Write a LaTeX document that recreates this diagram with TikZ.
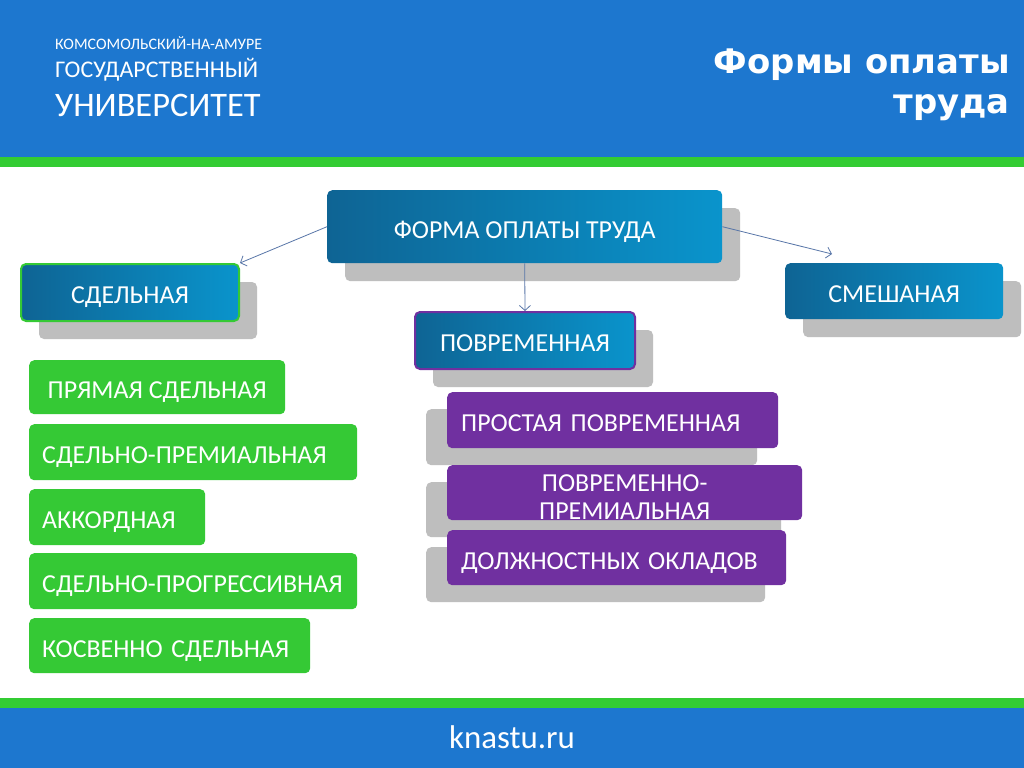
\documentclass[tikz,border=0pt]{standalone}
\usepackage{fontspec}
\setmainfont{Carlito}
\newfontfamily\headfont{Carlito}
\newfontfamily\titlefont{DejaVu Sans}
\usetikzlibrary{arrows.meta,positioning,shadows}
\definecolor{headblue}{RGB}{29,119,207}
\definecolor{stripegreen}{RGB}{51,204,51}
\definecolor{boxdark}{RGB}{14,100,148}
\definecolor{boxlight}{RGB}{10,148,204}
\definecolor{boxgreen}{RGB}{53,201,53}
\definecolor{boxpurple}{RGB}{112,48,160}
\definecolor{shadowgray}{RGB}{190,190,190}
\definecolor{arrowblue}{RGB}{88,118,168}
\tikzset{
    diagramblue/.style={anchor=north west, rounded corners=5bp, left color=boxdark, right color=boxlight, text=white, font=\fontsize{26}{30}\selectfont, text height=23bp, text depth=0pt, general shadow={fill=shadowgray, shadow xshift=18bp, shadow yshift=-18bp}},
    diagramgreen/.style={anchor=north west, rounded corners=5bp, fill=boxgreen, text=white, font=\fontsize{26}{30}\selectfont, text height=23bp, text depth=0pt, align=left, inner xsep=13bp},
    diagrampurple/.style={anchor=north west, rounded corners=5bp, fill=boxpurple, text=white, font=\fontsize{26}{30}\selectfont, text height=23bp, text depth=0pt, align=left, inner xsep=14bp, general shadow={fill=shadowgray, shadow xshift=-21bp, shadow yshift=-17bp}},
    diagramarrow/.style={-{Straight Barb[length=5bp, width=11bp]}, arrowblue, line width=0.8bp},
    diagramhead/.style={anchor=base west, text=white, inner sep=0pt}
}
\begin{document}
\begin{tikzpicture}[x=1bp, y=-1bp]
    % header and footer bands
    \fill[white] (0,0) rectangle (1024,768);
    \fill[headblue] (0,0) rectangle (1024,157);
    \fill[stripegreen] (0,157) rectangle (1024,167);
    \fill[stripegreen] (0,698) rectangle (1024,708);
    \fill[headblue] (0,708) rectangle (1024,768);
    \node[diagramhead, font=\headfont\fontsize{16}{18}\selectfont] (uni1) at (55,50) {КОМСОМОЛЬСКИЙ-НА-АМУРЕ};
    \node[diagramhead, font=\headfont\fontsize{24}{26}\selectfont] (uni2) at (55,78) {ГОСУДАРСТВЕННЫЙ};
    \node[diagramhead, font=\headfont\fontsize{34.5}{36}\selectfont] (uni3) at (55,116) {УНИВЕРСИТЕТ};
    \node[anchor=base east, text=white, align=right, inner sep=0pt, font=\titlefont\bfseries\fontsize{34}{40}\selectfont] (title) at (1010,113) {Формы оплаты\\труда};
    \node[anchor=base, text=white, inner sep=0pt, font=\headfont\fontsize{33}{36}\selectfont] (site) at (512,748) {knastu.ru};

    % main level
    \node[diagramblue, minimum width=395bp, minimum height=73bp] (formbox) at (327,190) {ФОРМА ОПЛАТЫ ТРУДА};
    \node[diagramblue, draw=boxgreen, line width=2bp, text height=21bp, minimum width=218bp, minimum height=57bp] (piecebox) at (20,263) {СДЕЛЬНАЯ};
    \node[diagramblue, draw=boxpurple, line width=2bp, text height=21bp, minimum width=220bp, minimum height=57bp] (timebox) at (414,311) {ПОВРЕМЕННАЯ};
    \node[diagramblue, minimum width=218bp, minimum height=56bp] (mixbox) at (785,263) {СМЕШАНАЯ};
    \coordinate (mixtip) at (832,254);
    \draw[diagramarrow] (formbox.west) -- (piecebox.north east);
    \draw[diagramarrow] (formbox.east) -- (mixtip);
    \draw[diagramarrow] (formbox.south) -- (timebox.north);

    % piece rate kinds
    \node[diagramgreen, align=center, minimum width=256bp, minimum height=54bp] (piece1) at (29,360) {ПРЯМАЯ СДЕЛЬНАЯ};
    \node[diagramgreen, text width=302bp, minimum height=56bp] (piece2) at (29,424) {СДЕЛЬНО-ПРЕМИАЛЬНАЯ};
    \node[diagramgreen, text width=150bp, minimum height=56bp] (piece3) at (29,489) {АККОРДНАЯ};
    \node[diagramgreen, text width=302bp, minimum height=56bp] (piece4) at (29,553) {СДЕЛЬНО-ПРОГРЕССИВНАЯ};
    \node[diagramgreen, text width=255bp, minimum height=55bp] (piece5) at (29,618) {КОСВЕННО СДЕЛЬНАЯ};

    % time rate kinds
    \node[diagrampurple, text width=303bp, minimum height=56bp] (time1) at (447,392) {ПРОСТАЯ ПОВРЕМЕННАЯ};
    \node[diagrampurple, align=center, inner ysep=0pt, text height=25bp, text depth=28bp, text width=327bp, minimum height=55bp, font=\fontsize{26}{28}\selectfont] (time2) at (447,465) {ПОВРЕМЕННО-\\ПРЕМИАЛЬНАЯ};
    \node[diagrampurple, text width=311bp, minimum height=55bp] (time3) at (447,530) {ДОЛЖНОСТНЫХ ОКЛАДОВ};
\end{tikzpicture}
\end{document}
